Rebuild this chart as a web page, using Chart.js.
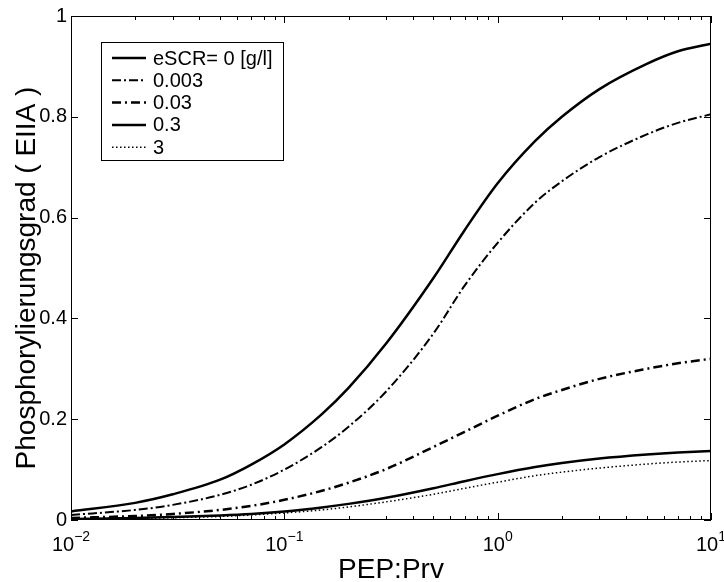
<!DOCTYPE html>
<html>
<head>
<meta charset="utf-8">
<script src="https://cdn.jsdelivr.net/npm/chart.js@4"></script>
<style>
  html, body { margin: 0; padding: 0; background: #fff; }
  #wrap { width: 724px; height: 582px; }
</style>
</head>
<body>
<div id="wrap"><canvas id="grafico" width="724" height="582"></canvas></div>
<script>
// datos
const pepPrv = [0.01, 0.02, 0.03, 0.05, 0.07, 0.1, 0.15, 0.2, 0.3, 0.5, 0.7, 1, 1.5, 2, 3, 5, 7, 10]
const escr0 = [0.017, 0.034, 0.051, 0.08, 0.11, 0.15, 0.21, 0.262, 0.35, 0.48, 0.575, 0.668, 0.752, 0.80, 0.855, 0.905, 0.93, 0.945]
const escr0003 = [0.01, 0.02, 0.03, 0.05, 0.07, 0.1, 0.145, 0.185, 0.255, 0.37, 0.465, 0.55, 0.63, 0.672, 0.72, 0.765, 0.788, 0.805]
const escr003 = [0.004, 0.008, 0.012, 0.02, 0.028, 0.04, 0.058, 0.074, 0.101, 0.145, 0.175, 0.207, 0.24, 0.258, 0.28, 0.30, 0.311, 0.32]
const escr03 = [0.002, 0.004, 0.006, 0.009, 0.012, 0.017, 0.025, 0.032, 0.044, 0.063, 0.077, 0.091, 0.105, 0.113, 0.122, 0.13, 0.134, 0.137]
const escr3 = [0.0015, 0.003, 0.0045, 0.007, 0.01, 0.014, 0.02, 0.026, 0.036, 0.051, 0.063, 0.075, 0.088, 0.095, 0.103, 0.111, 0.115, 0.118]
const etiquetas = ['eSCR= 0 [g/l]', '0.003', '0.03', '0.3', '3']
const yTicks = [0, 0.2, 0.4, 0.6, 0.8, 1]
const xTicks = [0.01, 0.1, 1, 10]

const fuente = 'Liberation Sans, Arial, sans-serif'

function serie(ys) {
  return pepPrv.map((x, i) => ({ x: x, y: ys[i] }))
}

const estilos = [
  { w: 2.5, dash: [] },
  { w: 2, dash: [9, 3, 2, 3] },
  { w: 2.5, dash: [9, 4, 2, 4] },
  { w: 2.5, dash: [] },
  { w: 1.5, dash: [1.5, 2.5] }
]
const series = [escr0, escr0003, escr003, escr03, escr3]

const datasets = series.map((s, i) => ({
  label: etiquetas[i],
  data: serie(s),
  borderColor: '#000',
  borderWidth: estilos[i].w,
  borderDash: estilos[i].dash,
  pointRadius: 0,
  fill: false,
  showLine: true,
  cubicInterpolationMode: 'monotone'
}))

// ejes, ticks y leyenda estilo matlab
const marco = {
  id: 'marco',
  afterDraw(chart) {
    const ctx = chart.ctx
    const a = chart.chartArea
    const sx = chart.scales.x
    const sy = chart.scales.y
    ctx.save()
    ctx.strokeStyle = '#000'
    ctx.lineWidth = 1
    ctx.setLineDash([])
    ctx.strokeRect(a.left + 0.5, a.top + 0.5, a.right - a.left - 1, a.bottom - a.top - 1)

    ctx.beginPath()
    yTicks.forEach(v => {
      const py = Math.round(sy.getPixelForValue(v)) + 0.5
      ctx.moveTo(a.left, py); ctx.lineTo(a.left + 7, py)
      ctx.moveTo(a.right, py); ctx.lineTo(a.right - 7, py)
    })
    for (let d = -2; d <= 1; d++) {
      for (let m = 1; m <= 9; m++) {
        const v = m * Math.pow(10, d)
        if (v > 10) break
        const px = Math.round(sx.getPixelForValue(v)) + 0.5
        const len = m === 1 ? 7 : 4
        ctx.moveTo(px, a.bottom); ctx.lineTo(px, a.bottom - len)
        ctx.moveTo(px, a.top); ctx.lineTo(px, a.top + len)
      }
    }
    ctx.stroke()

    ctx.fillStyle = '#000'
    ctx.font = '20px ' + fuente
    ctx.textAlign = 'right'
    ctx.textBaseline = 'middle'
    yTicks.forEach(v => {
      ctx.fillText(String(v), a.left - 4, sy.getPixelForValue(v))
    })

    xTicks.forEach(v => {
      const px = sx.getPixelForValue(v)
      const exp = String(Math.round(Math.log10(v))).replace('-', '\u2212')
      ctx.font = '20px ' + fuente
      const w1 = ctx.measureText('10').width
      ctx.font = '14px ' + fuente
      const w2 = ctx.measureText(exp).width
      const x0 = px - (w1 + w2) / 2
      ctx.textAlign = 'left'
      ctx.textBaseline = 'alphabetic'
      ctx.font = '20px ' + fuente
      ctx.fillText('10', x0, a.bottom + 31)
      ctx.font = '14px ' + fuente
      ctx.fillText(exp, x0 + w1, a.bottom + 21)
    })

    ctx.font = '28px ' + fuente
    ctx.textAlign = 'center'
    ctx.textBaseline = 'alphabetic'
    ctx.fillText('PEP:Prv', (a.left + a.right) / 2, 578)
    ctx.save()
    ctx.translate(35, (a.top + a.bottom) / 2 + 10)
    ctx.rotate(-Math.PI / 2)
    ctx.fillText('Phosphorylierungsgrad ( EIIA )', 0, 0)
    ctx.restore()

    // leyenda
    const lx = 101, ly = 42, lw = 182, lh = 118
    ctx.fillStyle = '#fff'
    ctx.fillRect(lx, ly, lw, lh)
    ctx.lineWidth = 1
    ctx.strokeRect(lx + 0.5, ly + 0.5, lw, lh)
    ctx.font = '20px ' + fuente
    ctx.textAlign = 'left'
    ctx.textBaseline = 'middle'
    chart.data.datasets.forEach((ds, i) => {
      const ry = ly + 16 + i * 22.3
      ctx.beginPath()
      ctx.lineWidth = ds.borderWidth
      ctx.setLineDash(ds.borderDash)
      ctx.moveTo(lx + 11, ry); ctx.lineTo(lx + 45, ry)
      ctx.stroke()
      ctx.setLineDash([])
      ctx.fillStyle = '#000'
      ctx.fillText(ds.label, lx + 52, ry + 1)
    })
    ctx.restore()
  }
}

new Chart(document.getElementById('grafico'), {
  type: 'scatter',
  data: { datasets: datasets },
  options: {
    responsive: false,
    animation: false,
    layout: { padding: { left: 71, right: 13, top: 16, bottom: 62 } },
    plugins: { legend: { display: false }, tooltip: { enabled: false } },
    scales: {
      x: { type: 'logarithmic', min: 0.01, max: 10, display: false },
      y: { type: 'linear', min: 0, max: 1, display: false }
    }
  },
  plugins: [marco]
})
</script>
</body>
</html>
